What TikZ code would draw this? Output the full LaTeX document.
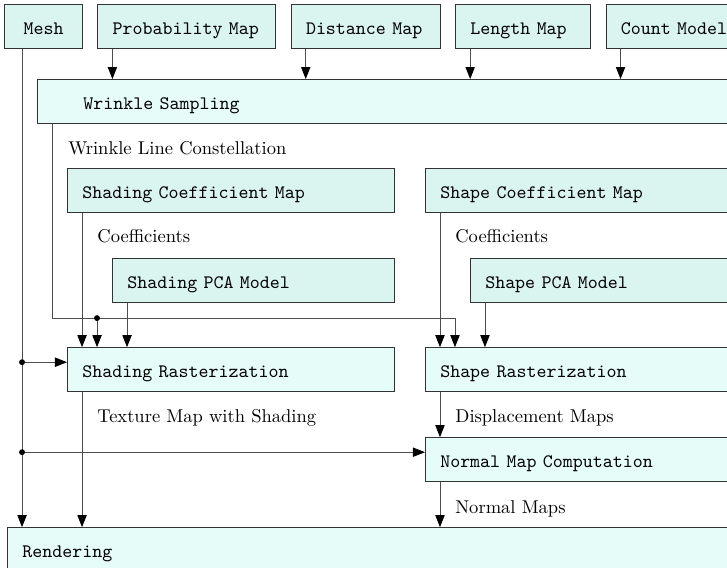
\documentclass[tikz,border=0pt]{standalone}
\usepackage{xcolor}
\usepackage{tikz}
\usetikzlibrary{arrows.meta,positioning}
\definecolor{ink}{HTML}{333333}
\definecolor{lead}{HTML}{4D4D4D}
\definecolor{datafill}{HTML}{DAF4F0}
\definecolor{procfill}{HTML}{E6FCF8}
\newcommand{\boxfont}{\ttfamily\fontsize{10.28pt}{12pt}\selectfont}
\tikzset{
  box/.style={rectangle, draw=ink, line width=0.5pt, align=left, inner xsep=8pt, inner ysep=0pt,
              text height=16pt, text depth=7.8pt, font=\boxfont},
  databox/.style={box, fill=datafill},
  procbox/.style={box, fill=procfill},
  lbl/.style={inner sep=0pt, font=\normalsize},
  flow/.style={-{Triangle[length=6.5pt,width=5pt,color=black]}, draw=lead, line width=0.5pt},
  junc/.style={fill=black}
}

\begin{document}
\begin{tikzpicture}
 \useasboundingbox (0,0) rectangle (392.6pt,-306.7pt);
 \clip (0,0) rectangle (392.6pt,-306.7pt);
 \node[databox, anchor=north west, text width=26.1pt, align=center] (mesh) at (2.2pt,-2.2pt) {Mesh};
 \node[databox, right=7.8pt of mesh, text width=80.1pt] (prob) {Probability Map};
 \node[databox, right=7.8pt of prob, text width=64.5pt] (dist) {Distance Map};
 \node[databox, right=7.8pt of dist, text width=56.9pt] (len) {Length Map};
 \node[databox, right=7.8pt of len, text width=60pt] (count) {Count Model};
 \node[procbox, below right=16.2pt and 17.8pt of mesh.south west, text width=400pt] (wrinkle) {\hspace*{16.8pt}Wrinkle Sampling};
 \node[lbl, below right=9pt and 16.7pt of wrinkle.south west] (constlbl) {Wrinkle Line Constellation};
 \node[databox, below right=23.8pt and 16.2pt of wrinkle.south west, text width=160.6pt] (shadcoef) {Shading Coefficient Map};
 \node[databox, right=16.2pt of shadcoef, text width=160.6pt] (shapecoef) {Shape Coefficient Map};
 \node[lbl, below right=8.6pt and 16.2pt of shadcoef.south west] (shadcoeflbl) {Coefficients};
 \node[lbl, below right=8.6pt and 16.2pt of shapecoef.south west] (shapecoeflbl) {Coefficients};
 \node[databox, below right=24.3pt and 24.3pt of shadcoef.south west, text width=136.3pt] (shadpca) {Shading PCA Model};
 \node[databox, below right=24.3pt and 24.3pt of shapecoef.south west, text width=136.3pt] (shapepca) {Shape PCA Model};
 \node[procbox, below right=72.4pt and 0pt of shadcoef.south west, text width=160.6pt] (shadrast) {Shading Rasterization};
 \node[procbox, right=16.2pt of shadrast, text width=160.6pt] (shaperast) {Shape Rasterization};
 \node[lbl, below right=9pt and 16.2pt of shadrast.south west] (texlbl) {Texture Map with Shading};
 \node[lbl, below right=9pt and 16.2pt of shaperast.south west] (displbl) {Displacement Maps};
 \node[procbox, below=24.3pt of shaperast, text width=160.6pt] (normal) {Normal Map Computation};
 \node[lbl, below right=9.5pt and 16.2pt of normal.south west] (normlbl) {Normal Maps};
 \node[procbox, anchor=north west, text width=400pt] (render) at ([xshift=1.6pt,yshift=-24.3pt]mesh.south west |- normal.south) {Rendering};

 \draw[flow] ([xshift=8.1pt]prob.south west) -- ([xshift=8.1pt]prob.south west |- wrinkle.north);
 \draw[flow] ([xshift=8.1pt]dist.south west) -- ([xshift=8.1pt]dist.south west |- wrinkle.north);
 \draw[flow] ([xshift=8.1pt]len.south west) -- ([xshift=8.1pt]len.south west |- wrinkle.north);
 \draw[flow] ([xshift=8.1pt]count.south west) -- ([xshift=8.1pt]count.south west |- wrinkle.north);

 \coordinate (wsplit) at ([xshift=16.2pt,yshift=-8.1pt]shadcoef.south west |- shadpca.south);
 \coordinate (wturn) at ([xshift=16.2pt]shapecoef.south west |- wsplit);
 \draw[flow] ([xshift=8.1pt]wrinkle.south west) |- (wturn) -- (wturn |- shaperast.north);
 \draw[flow] (wsplit) -- (wsplit |- shadrast.north);
 \fill[junc] (wsplit) circle (1.6pt);

 \draw[flow] ([xshift=8.1pt]shadcoef.south west) -- ([xshift=8.1pt]shadcoef.south west |- shadrast.north);
 \draw[flow] ([xshift=8.1pt]shadpca.south west) -- ([xshift=8.1pt]shadpca.south west |- shadrast.north);
 \draw[flow] ([xshift=8.1pt]shapecoef.south west) -- ([xshift=8.1pt]shapecoef.south west |- shaperast.north);
 \draw[flow] ([xshift=8.1pt]shapepca.south west) -- ([xshift=8.1pt]shapepca.south west |- shaperast.north);

 \draw[flow] ([xshift=9.7pt]mesh.south west) -- ([xshift=9.7pt]mesh.south west |- render.north);
 \coordinate (meshA) at ([xshift=9.7pt,yshift=-8.1pt]mesh.south west |- shadrast.north);
 \coordinate (meshB) at ([xshift=9.7pt,yshift=-8.1pt]mesh.south west |- normal.north);
 \draw[flow] (meshA) -- (meshA -| shadrast.west);
 \draw[flow] (meshB) -- (meshB -| normal.west);
 \fill[junc] (meshA) circle (1.6pt);
 \fill[junc] (meshB) circle (1.6pt);

 \draw[flow] ([xshift=8.1pt]shadrast.south west) -- ([xshift=8.1pt]shadrast.south west |- render.north);
 \draw[flow] ([xshift=8.1pt]shaperast.south west) -- ([xshift=8.1pt]shaperast.south west |- normal.north);
 \draw[flow] ([xshift=8.1pt]normal.south west) -- ([xshift=8.1pt]normal.south west |- render.north);
\end{tikzpicture}
\end{document}
